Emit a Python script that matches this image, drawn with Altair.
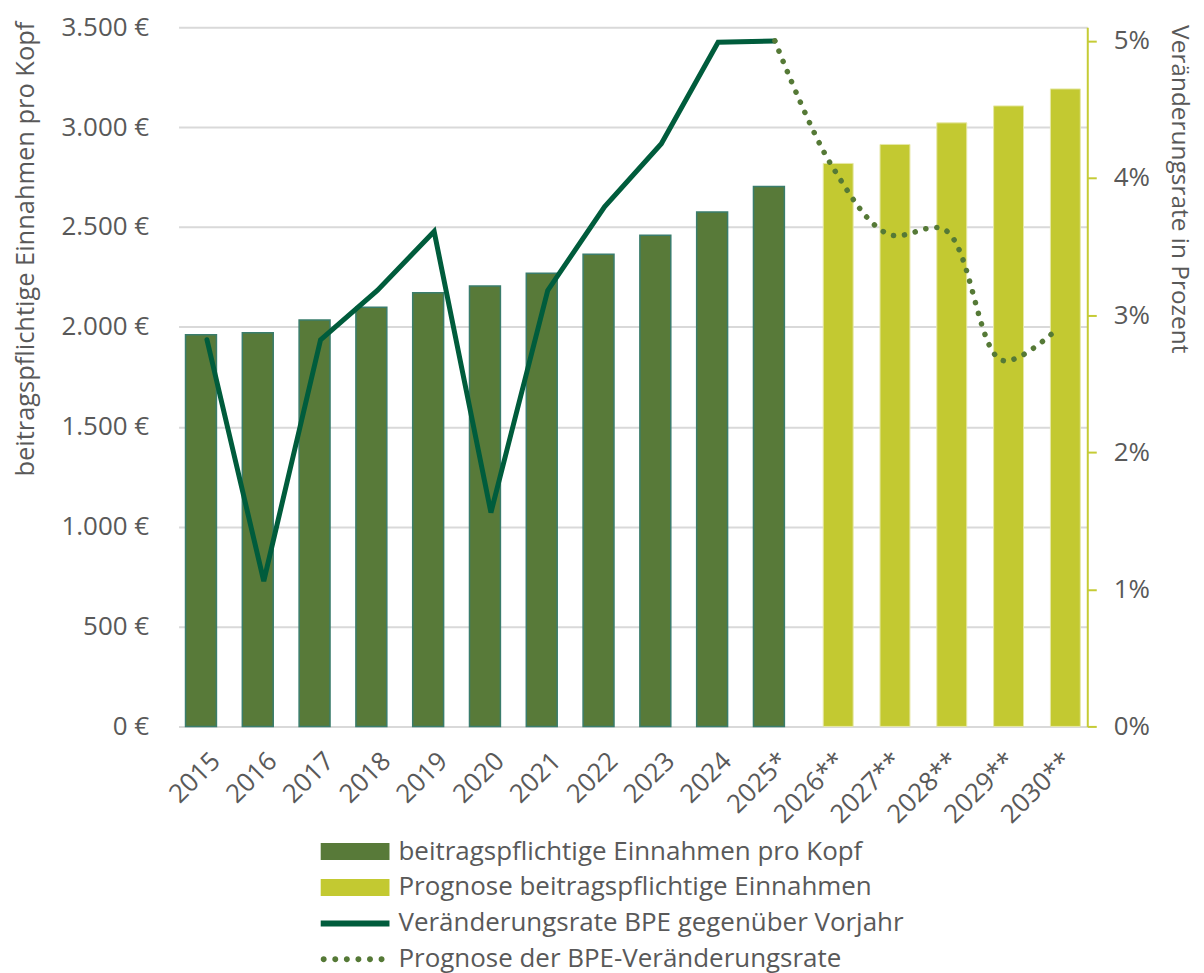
import altair as alt
import pandas as pd

# ---------------- data ----------------
years = ["2015", "2016", "2017", "2018", "2019", "2020", "2021", "2022", "2023",
         "2024", "2025*", "2026**", "2027**", "2028**", "2029**", "2030**"]
bpe_hist_years = years[:11]
bpe_hist = [1960, 1971, 2034, 2098, 2171, 2204, 2268, 2364, 2459, 2575, 2703]
bpe_prog_years = years[11:]
bpe_prog = [2818, 2913, 3021, 3106, 3191]

rate_years = years[:11]
rate = [2.82, 1.06, 2.82, 3.18, 3.61, 1.56, 3.18, 3.79, 4.25, 4.99, 5.00]
rate_prog_years = years[10:]
rate_prog = [5.00, 4.09, 3.59, 3.62, 2.67, 2.91]

legend_labels = [
    "beitragspflichtige Einnahmen pro Kopf",
    "Prognose beitragspflichtige Einnahmen",
    "Veränderungsrate BPE gegenüber Vorjahr",
    "Prognose der BPE-Veränderungsrate",
]

# ---------------- styles ----------------
FONT = "Open Sans"
TXT = "#595959"
C_HIST = "#587a39"
C_HIST_EDGE = "#3a7d6c"
C_PROG = "#c3c931"
C_PROG_EDGE = "#e6e8a6"
C_LINE = "#005c3c"
C_DOT = "#557936"
C_RAXIS = "#c5cb35"

def dots_path():
    r = 0.171
    parts = []
    for cx in [-0.829, -0.166, 0.497, 1.16, 1.823, 2.486]:
        parts.append(f"M{cx - r:.3f},0A{r},{r} 0 1,0 {cx + r:.3f},0A{r},{r} 0 1,0 {cx - r:.3f},0Z")
    return "".join(parts)

legend_shapes = [
    "M-1,-0.486H2.94V0.486H-1Z",
    "M-1,-0.486H2.94V0.486H-1Z",
    "M-1,-0.17H2.94V0.17H-1Z",
    dots_path(),
]
legend_colors = [C_HIST, C_PROG, C_LINE, C_DOT]

df_hist = pd.DataFrame({"jahr": bpe_hist_years, "bpe": bpe_hist})
df_prog = pd.DataFrame({"jahr": bpe_prog_years, "bpe": bpe_prog})
df_rate = pd.DataFrame({"jahr": rate_years, "rate": rate})
df_rate_prog = pd.DataFrame({"jahr": rate_prog_years, "rate": rate_prog})
df_leg = pd.DataFrame({"serie": legend_labels})

x_enc = alt.X(
    "jahr:N",
    sort=years,
    scale=alt.Scale(domain=years, paddingInner=0, paddingOuter=0),
    axis=alt.Axis(
        title=None, labelAngle=-45, labelFontSize=26, labelFont=FONT,
        labelColor=TXT, ticks=False, labelPadding=21,
        domainColor="#d9d9d9", domainWidth=2, grid=False,
    ),
)

y_left = alt.Y(
    "bpe:Q",
    scale=alt.Scale(domain=[0, 3500], nice=False),
    axis=alt.Axis(
        title="beitragspflichtige Einnahmen pro Kopf",
        values=[0, 500, 1000, 1500, 2000, 2500, 3000, 3500],
        labelExpr="replace(format(datum.value, ',.0f'), ',', '.') + ' €'",
        domain=False, ticks=False, tickSize=0, labelPadding=30,
        labelFontSize=26, labelFont=FONT, labelColor=TXT,
        titleFontSize=25.5, titleFont=FONT, titleColor=TXT, titleFontWeight="normal",
        titlePadding=23, titleY=222,
        grid=True, gridColor="#d9d9d9", gridWidth=2,
    ),
)

y_right = alt.Y(
    "rate:Q",
    scale=alt.Scale(domain=[0, 5.1], nice=False),
    axis=alt.Axis(
        orient="right",
        title="Veränderungsrate in Prozent",
        values=[0, 1, 2, 3, 4, 5],
        labelExpr="datum.value + '%'",
        domain=True, domainColor=C_RAXIS, domainWidth=2,
        ticks=True, tickColor=C_RAXIS, tickWidth=2, tickSize=9,
        labelPadding=17, labelFontSize=26, labelFont=FONT, labelColor=TXT,
        titleFontSize=24.5, titleFont=FONT, titleColor=TXT, titleFontWeight="normal",
        titlePadding=17, titleY=162, titleAngle=90,
        grid=False,
    ),
)

bars_hist = alt.Chart(df_hist).mark_bar(
    width=31, xOffset=-6, color=C_HIST, stroke=C_HIST_EDGE, strokeWidth=1.5
).encode(x=x_enc, y=y_left)

bars_prog = alt.Chart(df_prog).mark_bar(
    width=30, xOffset=6.5, color=C_PROG, stroke=C_PROG_EDGE, strokeWidth=1
).encode(x=x_enc, y=y_left)

leg_common = dict(
    orient="none", legendX=142.5, legendY=809, title=None,
    symbolSize=1225, labelOffset=43, labelFontSize=26, labelFont=FONT,
    labelColor=TXT, padding=0, rowPadding=5, symbolStrokeWidth=0,
    symbolOpacity=1, labelLimit=0, direction="vertical",
)

legend_layer = alt.Chart(df_leg).mark_point(filled=True, opacity=1).encode(
    shape=alt.Shape("serie:N", scale=alt.Scale(domain=legend_labels, range=legend_shapes),
                    legend=alt.Legend(**leg_common)),
    fill=alt.Fill("serie:N", scale=alt.Scale(domain=legend_labels, range=legend_colors),
                  legend=alt.Legend(**leg_common)),
).transform_filter("false")

line_ist = alt.Chart(df_rate).mark_line(
    color=C_LINE, strokeWidth=5, strokeCap="round", strokeJoin="miter"
).encode(x=x_enc, y=y_right)

line_prog = alt.Chart(df_rate_prog).mark_line(
    color=C_DOT, strokeWidth=5.5, strokeDash=[0.1, 11], strokeCap="round",
    interpolate="catmull-rom"
).encode(x=x_enc, y=y_right)

left = alt.layer(bars_hist, bars_prog, legend_layer)
right = alt.layer(line_ist, line_prog)

chart = alt.layer(left, right).resolve_scale(y="independent").properties(
    width=911, height=701, background="white",
    padding={"left": 5, "top": 5, "right": 4, "bottom": 5},
).configure_view(stroke=None)

chart.save("out.html", embed_options={"renderer": "svg", "actions": False})
